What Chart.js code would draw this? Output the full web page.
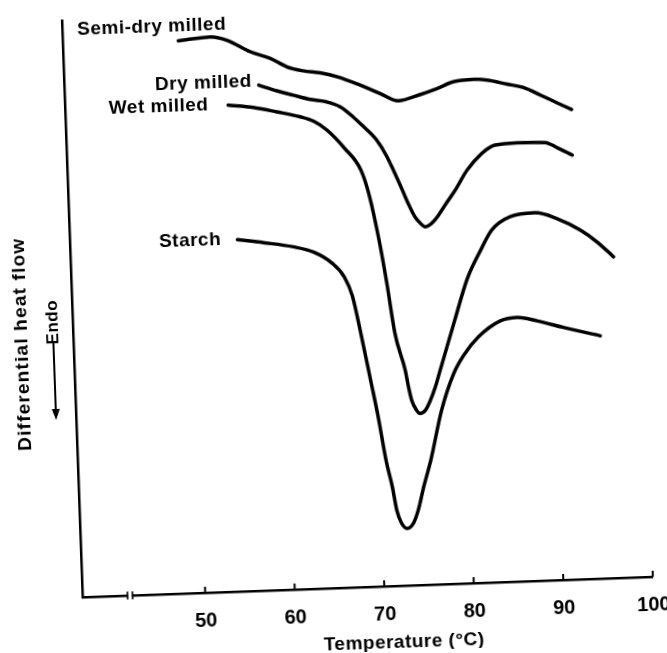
<!DOCTYPE html>
<html>
<head>
<meta charset="utf-8">
<script src="https://cdn.jsdelivr.net/npm/chart.js@4.4.1/dist/chart.umd.min.js"></script>
<style>
  html, body { margin: 0; padding: 0; background: #fff; overflow: hidden; }
  #wrap { width: 667px; height: 653px; }
  /* the scan is slightly tilted, so the whole chart is tilted too */
  #chart { transform: rotate(-2.05deg); transform-origin: 50% 50%; }
</style>
</head>
<body>
<div id="wrap"><canvas id="chart" width="667" height="653"></canvas></div>
<script>
// Temperature (°C) and differential heat flow (arbitrary units, 0 = x axis)
const tickValues = [50, 60, 70, 80, 90, 100];
const seriesNames = ['Semi-dry milled', 'Dry milled', 'Wet milled', 'Starch'];

const semiDryTemp = [49.2, 52.8, 54.6, 57.2, 59.4, 61.2, 63.0, 64.9, 66.8, 69.3, 71.5, 73.5, 76.0, 77.9, 79.7, 82.0, 83.5, 85.7, 87.5, 89.4, 91.2, 92.8];
const semiDryFlow = [552.9, 555.7, 551.8, 539.3, 532.0, 523.0, 518.4, 515.8, 511.2, 502.1, 493.0, 485.0, 490.6, 496.0, 502.0, 503.7, 502.5, 497.8, 493.9, 485.6, 477.3, 470.2];

const dryTemp = [58.0, 60.0, 61.8, 63.7, 65.5, 67.0, 68.4, 69.3, 70.9, 72.0, 73.6, 74.2, 74.9, 75.5, 76.0, 76.6, 77.4, 78.3, 79.5, 80.9, 82.6, 84.1, 86.6, 89.7, 91.0, 92.7];
const dryFlow = [505.7, 499.3, 494.4, 489.5, 486.5, 481.1, 470.6, 462.5, 447.0, 429.8, 395.6, 382.0, 368.4, 361.6, 358.0, 360.3, 367.6, 379.0, 393.7, 413.2, 429.4, 437.2, 438.8, 438.1, 432.7, 424.5];

const wetTemp = [54.5, 57.3, 59.9, 62.5, 64.0, 65.4, 67.3, 69.1, 69.9, 70.8, 71.5, 72.2, 73.2, 73.5, 73.8, 74.3, 74.7, 75.3, 75.9, 76.5, 77.1, 78.9, 80.5, 82.1, 83.4, 85.5, 88.3, 90.7, 93.3, 95.1, 96.9];
const wetFlow = [486.8, 483.6, 478.3, 472.5, 467.5, 458.5, 439.7, 416.2, 390.9, 346.4, 302.8, 252.5, 215.4, 198.6, 185.2, 175.0, 171.6, 174.7, 184.6, 197.7, 214.2, 262.9, 304.9, 332.8, 352.3, 365.0, 368.1, 361.7, 349.2, 336.9, 321.3];

const starchTemp = [55.0, 57.9, 61.2, 63.5, 65.4, 66.8, 67.6, 68.4, 69.3, 70.0, 70.7, 71.3, 71.7, 72.2, 72.8, 73.5, 74.1, 74.8, 75.7, 77.1, 78.6, 79.8, 81.5, 84.0, 85.9, 88.1, 91.0, 95.1];
const starchFlow = [351.9, 348.0, 342.8, 336.6, 325.6, 310.5, 291.5, 253.7, 206.7, 169.7, 126.1, 99.2, 75.7, 62.3, 57.1, 61.9, 75.0, 98.1, 124.5, 174.1, 210.4, 228.4, 246.1, 261.3, 264.2, 260.0, 252.5, 242.8];

// where each curve name sits (data units) and how it is aligned
const labelTemp = [37.97, 57.24, 52.30, 53.18];
const labelFlow = [567.5, 509.2, 487.5, 352.4];
const labelAlign = ['left', 'right', 'right', 'right'];

const axisBreakAt = 41.6;
const fuente = '"Liberation Sans", Arial, sans-serif';

const series = [
    [semiDryTemp, semiDryFlow],
    [dryTemp, dryFlow],
    [wetTemp, wetFlow],
    [starchTemp, starchFlow]
];

// ticks hacia dentro, corte del eje y textos
const anotaciones = {
    id: 'anotaciones',
    afterDraw(chart) {
        const { ctx, chartArea, scales: { x, y } } = chart;
        ctx.save();
        ctx.strokeStyle = '#000';
        ctx.fillStyle = '#000';

        // tick marks pointing up into the plot
        ctx.lineWidth = 2;
        x.ticks.forEach(t => {
            const px = x.getPixelForValue(t.value);
            ctx.beginPath();
            ctx.moveTo(px, chartArea.bottom);
            ctx.lineTo(px, chartArea.bottom - 6);
            ctx.stroke();
        });

        // axis break
        const bx = x.getPixelForValue(axisBreakAt);
        ctx.fillStyle = '#fff';
        ctx.fillRect(bx - 2, chartArea.bottom - 3, 4, 6);
        ctx.fillStyle = '#000';
        ctx.lineWidth = 1.6;
        [-2.5, 2.5].forEach(d => {
            ctx.beginPath();
            ctx.moveTo(bx + d, chartArea.bottom - 4);
            ctx.lineTo(bx + d, chartArea.bottom + 4);
            ctx.stroke();
        });

        // curve names
        ctx.font = 'bold 19px ' + fuente;
        ctx.letterSpacing = '0.5px';
        ctx.textBaseline = 'middle';
        seriesNames.forEach((name, i) => {
            ctx.textAlign = labelAlign[i];
            ctx.fillText(name, x.getPixelForValue(labelTemp[i]), y.getPixelForValue(labelFlow[i]));
        });

        // x axis title
        ctx.textAlign = 'center';
        ctx.fillText('Temperature (°C)', x.getPixelForValue(72.0), chartArea.bottom + 57);

        // y axis title
        ctx.save();
        ctx.translate(chartArea.left - 52, y.getPixelForValue(255));
        ctx.rotate(-Math.PI / 2);
        ctx.letterSpacing = '1.2px';
        ctx.fillText('Differential heat flow', 0, 0);
        ctx.restore();

        // Endo + arrow
        const ex = chartArea.left - 20.5;
        ctx.save();
        ctx.translate(ex, y.getPixelForValue(276));
        ctx.rotate(-Math.PI / 2);
        ctx.font = 'bold 17px ' + fuente;
        ctx.letterSpacing = '0.5px';
        ctx.fillText('Endo', 0, 0);
        ctx.restore();

        const yTop = y.getPixelForValue(256);
        const yTip = y.getPixelForValue(178);
        ctx.lineWidth = 2;
        ctx.beginPath();
        ctx.moveTo(ex, yTop);
        ctx.lineTo(ex, yTip - 8);
        ctx.stroke();
        ctx.beginPath();
        ctx.moveTo(ex - 4, yTip - 11);
        ctx.lineTo(ex + 4, yTip - 11);
        ctx.lineTo(ex, yTip);
        ctx.closePath();
        ctx.fill();

        ctx.restore();
    }
};

const ctx = document.getElementById('chart').getContext('2d');

new Chart(ctx, {
    type: 'line',
    data: {
        datasets: series.map(([temps, flows], i) => ({
            label: seriesNames[i],
            data: temps.map((t, j) => ({ x: t, y: flows[j] })),
            borderColor: '#000',
            borderWidth: 3.5,
            pointRadius: 0,
            fill: false,
            cubicInterpolationMode: 'monotone',
            borderCapStyle: 'round',
            borderJoinStyle: 'round'
        }))
    },
    options: {
        responsive: false,
        animation: false,
        layout: {
            padding: { left: 73.5, right: 23.3, top: 11.35, bottom: 0 }
        },
        scales: {
            x: {
                type: 'linear',
                min: 36.35,
                max: 100,
                grid: { display: false, drawTicks: false },
                border: { display: true, color: '#000', width: 2.5 },
                ticks: {
                    color: '#000',
                    padding: 16,
                    font: { family: fuente, size: 20, weight: 'bold' }
                },
                afterBuildTicks: (scale) => {
                    scale.ticks = tickValues.map(v => ({ value: v }));
                },
                afterFit: (scale) => {
                    scale.height = 65;
                    scale.paddingLeft = 0;
                    scale.paddingRight = 0;
                }
            },
            y: {
                min: 0,
                max: 577,
                grid: { display: false, drawTicks: false },
                border: { display: true, color: '#000', width: 2.5 },
                ticks: { display: false },
                afterFit: (scale) => {
                    scale.width = 0;
                    scale.paddingTop = 0;
                    scale.paddingBottom = 0;
                }
            }
        },
        plugins: {
            legend: { display: false },
            tooltip: { enabled: false }
        }
    },
    plugins: [anotaciones]
});
</script>
</body>
</html>
